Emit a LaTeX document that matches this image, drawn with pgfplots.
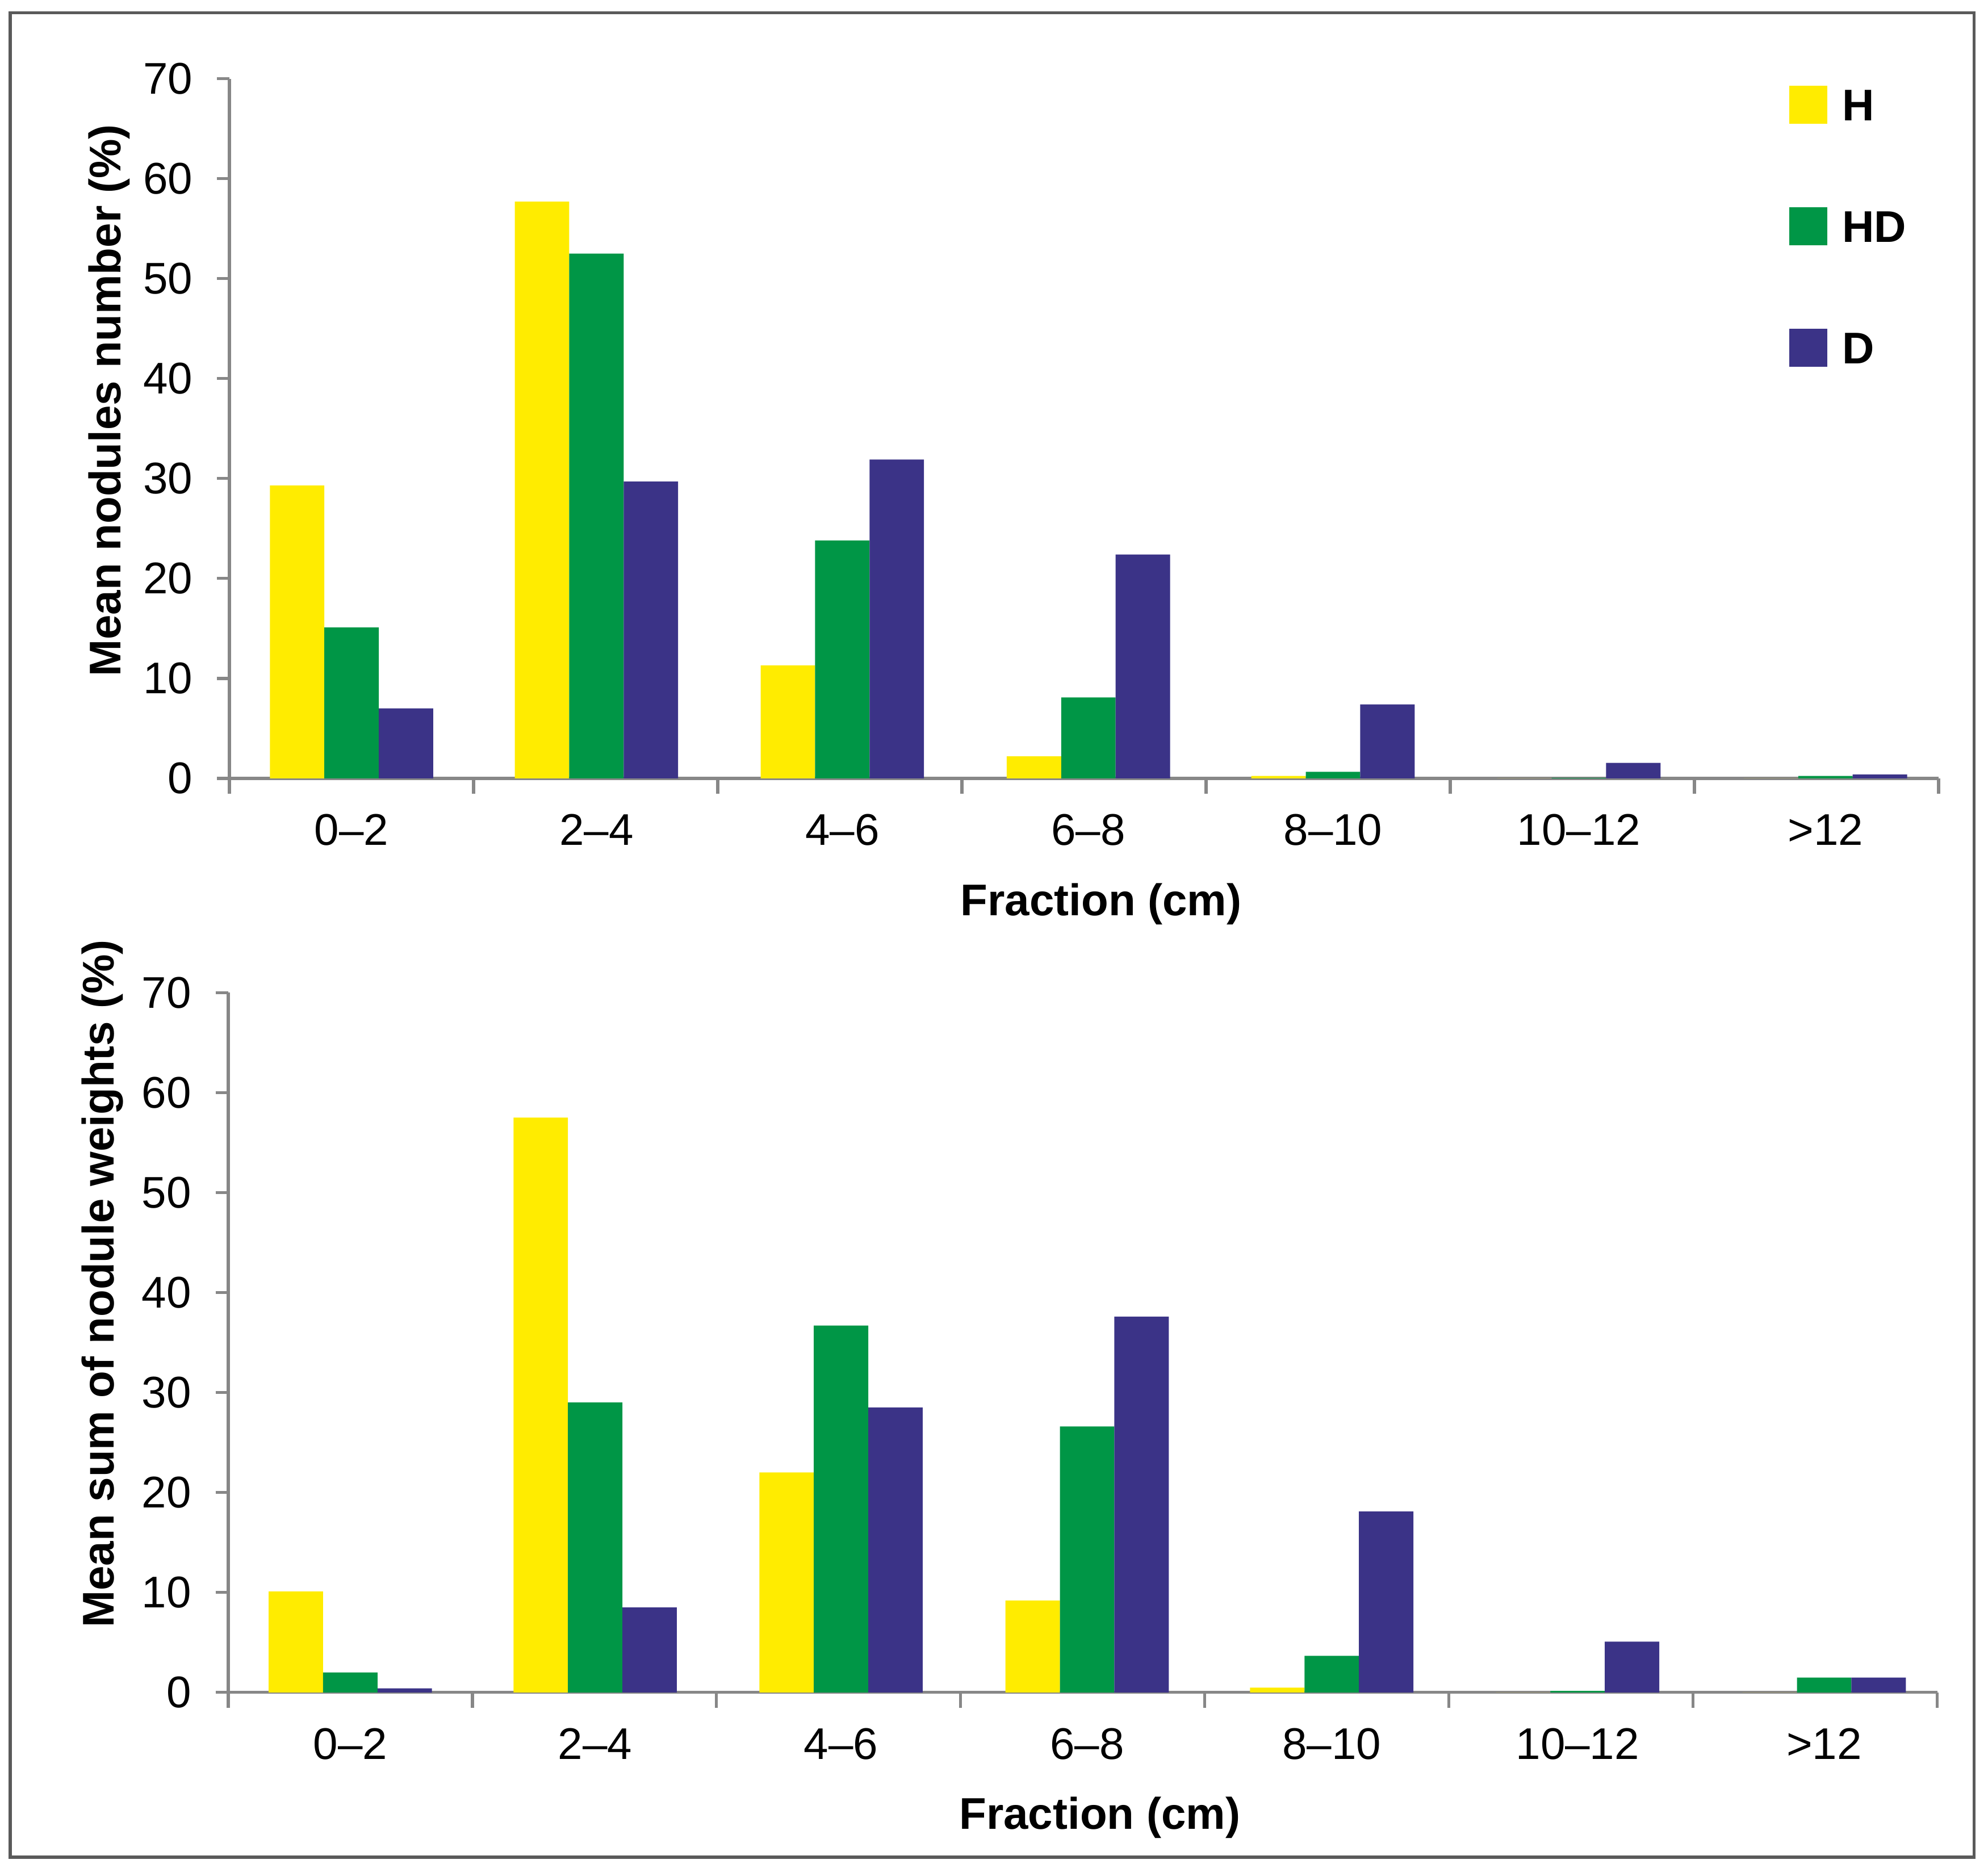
\documentclass[border=0pt]{standalone}
\usepackage{pgfplots}
\pgfplotsset{compat=1.18}
\usepackage{fontspec}
\setmainfont{Liberation Sans}

\definecolor{cH}{RGB}{255,236,0}
\definecolor{cHD}{RGB}{0,150,70}
\definecolor{cD}{RGB}{59,51,135}
\definecolor{axgray}{RGB}{135,135,135}
\definecolor{framegray}{RGB}{90,90,90}

\pgfplotsset{
  nodbar/.style={
    scale only axis, width=337pt, height=138pt,
    ybar=0pt, bar width=0.223,
    xmin=-0.5, xmax=6.5, ymin=0, ymax=70,
    axis x line=bottom, axis y line=left,
    axis line style={-, draw=axgray, line width=0.6pt},
    xtick={0,1.003,2.010,3.018,4.020,5.027,6.037},
    xticklabels={0--2,2--4,4--6,6--8,8--10,10--12,>12},
    minor xtick={-0.5,0.5,...,6.5},
    major x tick style={draw=none},
    minor x tick style={draw=axgray, line width=0.6pt},
    ytick={0,10,...,70},
    y tick style={draw=axgray, line width=0.6pt},
    tick align=outside,
    major tick length=2.5pt, minor tick length=3pt,
    /pgf/number format/assume math mode=true,
    tick label style={font=\fontsize{8.75}{10}\selectfont},
    xticklabel style={yshift=-1pt},
    yticklabel style={xshift=-1.25pt},
    label style={font=\bfseries\fontsize{8.75}{10}\selectfont},
    xlabel={Fraction (cm)},
    xlabel style={at={(rel axis cs:0.51,0)}, anchor=base, yshift=-27pt},
  },
  sqleg/.style={legend image code/.code={\fill[##1,draw=none] (0pt,-2.95pt) rectangle (7.5pt,4.55pt);}},
}

\begin{document}
\begin{tikzpicture}
\useasboundingbox (0,0) rectangle (392pt,367.5pt);
\draw[framegray, line width=0.6pt] (2pt,1.25pt) rectangle (389.25pt,365pt);

% top: number of nodules
\begin{axis}[nodbar,
    at={(45.25pt,214pt)}, anchor=south west,
    ylabel={Mean nodules number (\%)},
    ylabel style={at={(rel axis cs:-0.0638,0.54)}, anchor=base},
    legend cell align=left,
    legend style={draw=none, fill=none, at={(rel axis cs:0.912,0.991)}, anchor=north west,
        inner sep=0pt, row sep=15.65pt,
        nodes={inner xsep=3pt, inner ysep=0pt, font=\bfseries\fontsize{8.75}{10}\selectfont}},
]
\addplot[fill=cH, draw=none, sqleg] coordinates {
    (0,29.3) (1.003,57.7) (2.010,11.3) (3.018,2.2) (4.020,0.25) (5.027,0) (6.037,0)};
\addlegendentry{H}
\addplot[fill=cHD, draw=none, sqleg] coordinates {
    (0,15.1) (1.003,52.5) (2.010,23.8) (3.018,8.1) (4.020,0.66) (5.027,0.05) (6.037,0.25)};
\addlegendentry{HD}
\addplot[fill=cD, draw=none, sqleg] coordinates {
    (0,7.0) (1.003,29.7) (2.010,31.9) (3.018,22.4) (4.020,7.4) (5.027,1.55) (6.037,0.38)};
\addlegendentry{D}
\end{axis}

% bottom: sum of nodule weights
\begin{axis}[nodbar,
    at={(45pt,33.75pt)}, anchor=south west,
    ylabel={Mean sum of nodule weights (\%)},
    ylabel style={at={(rel axis cs:-0.0668,0.584)}, anchor=base},
]
\addplot[fill=cH, draw=none] coordinates {
    (0,10.1) (1.003,57.5) (2.010,22.0) (3.018,9.2) (4.020,0.47) (5.027,0) (6.037,0)};
\addplot[fill=cHD, draw=none] coordinates {
    (0,2.0) (1.003,29.0) (2.010,36.7) (3.018,26.6) (4.020,3.65) (5.027,0.15) (6.037,1.48)};
\addplot[fill=cD, draw=none] coordinates {
    (0,0.4) (1.003,8.5) (2.010,28.5) (3.018,37.6) (4.020,18.1) (5.027,5.07) (6.037,1.48)};
\end{axis}
\end{tikzpicture}
\end{document}
